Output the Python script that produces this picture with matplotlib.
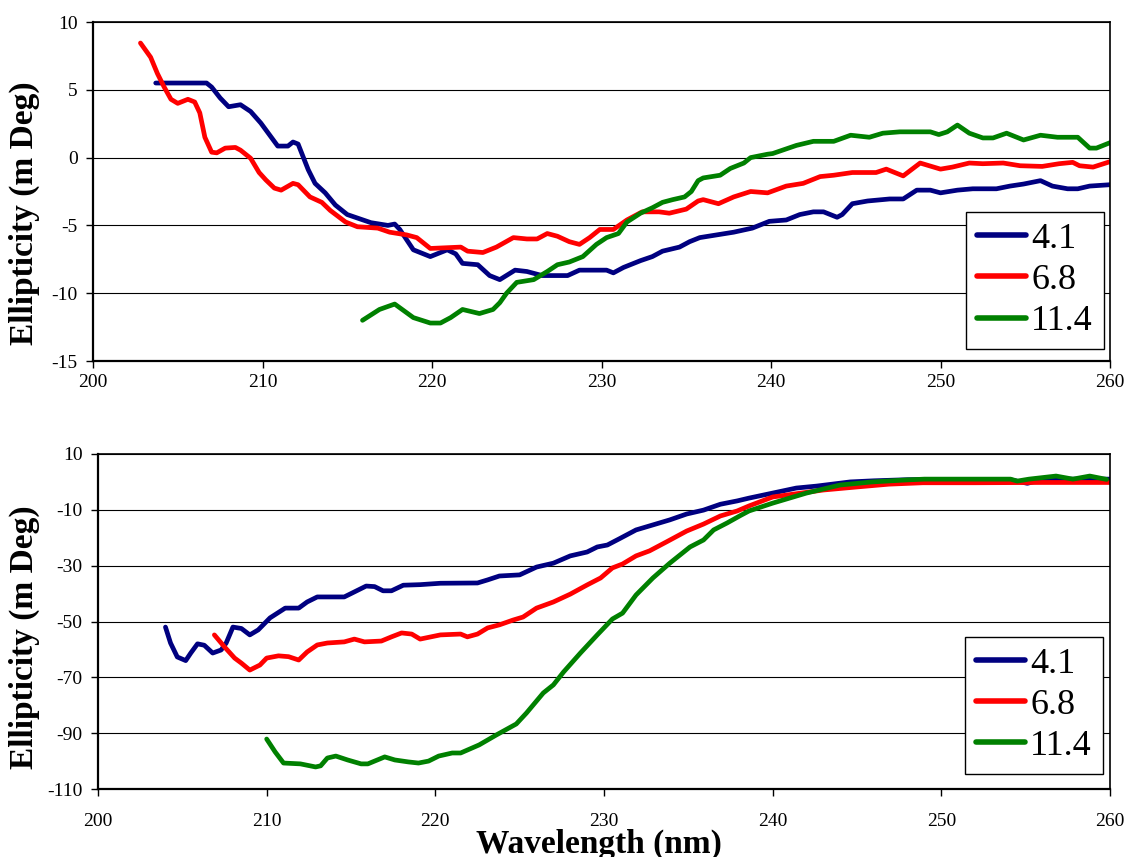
import matplotlib.pyplot as plt

plt.rcParams['font.family'] = ['Liberation Serif', 'DejaVu Serif']
plt.rcParams['axes.unicode_minus'] = False

labels = ['4.1', '6.8', '11.4']
colors = ['#000080', '#ff0000', '#008000']

# top panel
top_x_41 = [203.7, 205.0, 206.0, 206.7, 207.0, 207.5, 208.0, 208.7, 209.3, 209.9, 210.4, 210.9,
            211.5, 211.8, 212.1, 212.7, 213.1, 213.7, 214.3, 215.0, 216.4, 217.4, 217.8, 218.1,
            218.9, 219.9, 220.9, 221.4, 221.8, 222.7, 223.4, 224.0, 224.9, 225.6, 226.5, 228.0,
            228.7, 230.3, 230.7, 231.3, 232.3, 233.0, 233.6, 234.6, 235.2, 235.8, 236.8, 237.8,
            238.9, 239.9, 240.9, 241.7, 242.5, 243.1, 243.9, 244.2, 244.8, 245.7, 247.0, 247.8,
            248.6, 249.4, 250.0, 251.0, 251.9, 253.3, 254.1, 254.9, 255.9, 256.6, 257.5, 258.1,
            258.8, 260.0]
top_y_41 = [5.5, 5.5, 5.5, 5.5, 5.2, 4.4, 3.75, 3.9, 3.4, 2.55, 1.7, 0.85,
            0.85, 1.15, 1.0, -0.9, -1.9, -2.6, -3.5, -4.2, -4.8, -5.0, -4.9, -5.3,
            -6.8, -7.3, -6.8, -7.1, -7.8, -7.9, -8.7, -9.0, -8.3, -8.4, -8.7, -8.7,
            -8.3, -8.3, -8.5, -8.1, -7.6, -7.3, -6.9, -6.6, -6.2, -5.9, -5.7, -5.5,
            -5.2, -4.7, -4.6, -4.2, -4.0, -4.0, -4.4, -4.2, -3.4, -3.2, -3.05, -3.05,
            -2.4, -2.4, -2.6, -2.4, -2.3, -2.3, -2.1, -1.95, -1.7, -2.1, -2.3, -2.3,
            -2.1, -2.0]

top_x_68 = [202.8, 203.4, 203.8, 204.2, 204.6, 205.0, 205.6, 206.0, 206.3, 206.6, 207.0, 207.3,
            207.8, 208.4, 208.7, 209.3, 209.8, 210.2, 210.7, 211.1, 211.8, 212.1, 212.8, 213.5,
            214.0, 214.9, 215.6, 216.8, 217.5, 218.5, 219.1, 219.9, 221.7, 222.1, 223.0, 223.8,
            224.8, 225.6, 226.2, 226.8, 227.4, 228.1, 228.7, 229.3, 229.9, 230.7, 231.5, 232.4,
            233.4, 234.0, 235.0, 235.7, 236.0, 236.9, 237.8, 238.8, 239.8, 240.9, 241.9, 242.9,
            243.7, 244.8, 246.2, 246.8, 247.8, 248.8, 250.0, 250.7, 251.7, 252.5, 253.7, 254.7,
            256.0, 257.0, 257.8, 258.2, 259.0, 260.0]
top_y_68 = [8.45, 7.4, 6.2, 5.2, 4.3, 4.0, 4.3, 4.1, 3.3, 1.5, 0.4, 0.35,
            0.7, 0.75, 0.55, -0.05, -1.1, -1.65, -2.25, -2.4, -1.9, -2.0, -2.9, -3.3,
            -3.9, -4.75, -5.1, -5.2, -5.5, -5.7, -5.9, -6.7, -6.6, -6.9, -7.0, -6.6,
            -5.9, -6.0, -6.0, -5.6, -5.8, -6.2, -6.4, -5.9, -5.3, -5.3, -4.6, -4.0,
            -4.0, -4.1, -3.8, -3.2, -3.1, -3.4, -2.9, -2.5, -2.6, -2.1, -1.9, -1.4,
            -1.3, -1.1, -1.1, -0.85, -1.35, -0.4, -0.85, -0.7, -0.4, -0.45, -0.4, -0.6,
            -0.65, -0.45, -0.35, -0.6, -0.7, -0.3]

top_x_114 = [215.9, 216.9, 217.8, 218.9, 219.9, 220.5, 221.1, 221.8, 222.8, 223.6, 224.0, 224.4,
             225.0, 226.0, 226.8, 227.4, 228.1, 228.9, 229.7, 230.3, 231.0, 231.5, 232.3, 233.0,
             233.6, 234.2, 234.9, 235.3, 235.7, 236.0, 237.0, 237.6, 238.4, 238.8, 239.8, 240.1,
             241.5, 242.5, 243.7, 244.7, 245.8, 246.6, 247.6, 249.4, 249.9, 250.4, 251.0, 251.7,
             252.5, 253.1, 253.9, 254.9, 255.9, 256.9, 258.1, 258.8, 259.2, 260.0]
top_y_114 = [-12.0, -11.2, -10.8, -11.8, -12.2, -12.2, -11.8, -11.2, -11.5, -11.2, -10.7, -10.0,
             -9.2, -9.0, -8.4, -7.9, -7.7, -7.3, -6.4, -5.9, -5.6, -4.75, -4.1, -3.7,
             -3.3, -3.1, -2.9, -2.5, -1.7, -1.5, -1.3, -0.8, -0.4, 0.0, 0.25, 0.3,
             0.9, 1.2, 1.2, 1.65, 1.5, 1.8, 1.9, 1.9, 1.7, 1.9, 2.4, 1.8,
             1.45, 1.45, 1.8, 1.3, 1.65, 1.5, 1.5, 0.7, 0.7, 1.1]

# bottom panel
bot_x_41 = [204.0, 204.3, 204.7, 205.2, 205.5, 205.9, 206.3, 206.8, 207.3, 207.6, 208.0, 208.5,
            209.0, 209.5, 210.2, 211.1, 211.9, 212.4, 213.0, 214.6, 215.2, 215.9, 216.4, 216.9,
            217.4, 218.1, 219.1, 220.3, 222.5, 223.1, 223.8, 225.0, 226.0, 227.0, 228.0, 229.0,
            229.6, 230.2, 230.9, 231.9, 232.9, 233.9, 234.9, 235.9, 236.9, 237.9, 238.6, 240.0,
            241.4, 242.6, 244.6, 246.0, 248.0, 250.0, 252.0, 254.0, 255.1, 256.0, 258.0, 260.0]
bot_y_41 = [-52, -57.7, -62.7, -64, -61.3, -58, -58.5, -61.3, -60.2, -57.7, -52, -52.5,
            -54.8, -53, -48.7, -45.2, -45.2, -43, -41.2, -41.2, -39.4, -37.3, -37.5, -39,
            -39, -37, -36.8, -36.3, -36.2, -35.1, -33.7, -33.3, -30.5, -29.1, -26.5, -25.1,
            -23.3, -22.6, -20.4, -17.2, -15.4, -13.6, -11.5, -10.1, -8.0, -6.8, -5.8, -4.0,
            -2.2, -1.5, 0.0, 0.4, 0.8, 0.9, 0.9, 0.9, -0.5, 0.9, 1.0, 1.0]

bot_x_68 = [206.9, 207.5, 208.1, 208.5, 209.0, 209.6, 210.0, 210.7, 211.3, 211.9, 212.4, 213.0,
            213.6, 214.6, 215.2, 215.8, 216.8, 217.4, 218.0, 218.6, 219.1, 220.3, 221.5, 221.9,
            222.5, 223.1, 223.8, 224.6, 225.2, 226.0, 227.0, 228.0, 229.0, 229.8, 230.5, 231.1,
            231.9, 232.7, 233.7, 234.9, 235.9, 236.9, 237.9, 238.6, 240.0, 243.0, 245.0, 246.9,
            248.9, 252.0, 256.0, 260.0]
bot_y_68 = [-54.8, -59.1, -63.1, -64.9, -67.4, -65.6, -63.1, -62.3, -62.6, -63.8, -60.9, -58.4,
            -57.7, -57.3, -56.3, -57.3, -57, -55.5, -54.1, -54.5, -56.3, -54.8, -54.5, -55.5,
            -54.5, -52.3, -51.2, -49.5, -48.4, -45.2, -43, -40.2, -36.9, -34.4, -30.8, -29.4,
            -26.5, -24.7, -21.5, -17.6, -15.1, -12.2, -10.4, -8.6, -5.4, -2.9, -1.8, -0.8,
            -0.3, -0.3, -0.2, -0.2]

bot_x_114 = [210.0, 210.5, 211.0, 212.0, 212.9, 213.2, 213.6, 214.1, 214.8, 215.6, 216.0, 217.0,
             217.6, 218.4, 219.0, 219.6, 220.2, 221.0, 221.5, 222.6, 223.6, 224.8, 225.4, 226.4,
             227.0, 227.6, 228.6, 229.6, 230.5, 231.1, 231.9, 232.9, 233.9, 235.1, 235.9, 236.5,
             237.3, 238.1, 238.6, 240.0, 242.0, 244.0, 245.9, 247.9, 249.0, 254.1, 254.5, 255.2,
             256.8, 257.8, 258.8, 259.8]
bot_y_114 = [-92.1, -96.7, -100.7, -101, -102.1, -101.7, -98.9, -98.2, -99.6, -101, -101, -98.5,
             -99.6, -100.3, -100.7, -100, -98.2, -97.1, -97.1, -94.2, -90.7, -86.7, -82.8, -75.6,
             -72.7, -68.1, -61.3, -54.8, -49.1, -47, -40.5, -34.4, -29.1, -23.3, -20.8, -17.2,
             -14.7, -12.0, -10.4, -7.6, -4.0, -1.1, 0.0, 0.7, 1.0, 1.0, 0.3, 1.0,
             2.1, 1.0, 2.1, 0.9]

top_series = [(top_x_41, top_y_41), (top_x_68, top_y_68), (top_x_114, top_y_114)]
bot_series = [(bot_x_41, bot_y_41), (bot_x_68, bot_y_68), (bot_x_114, bot_y_114)]

fig = plt.figure(figsize=(11.28, 8.57), dpi=100)
ax1 = fig.add_axes([93 / 1128, 1 - 361 / 857, 1017 / 1128, 339 / 857])
ax2 = fig.add_axes([98 / 1128, 1 - 789 / 857, 1012 / 1128, 335 / 857])


def style(ax, series, yticks, xpad, legend_anchor, label_xy):
    for (xs, ys), c, lab in zip(series, colors, labels):
        ax.plot(xs, ys, color=c, lw=3.4, label=lab, solid_capstyle='round')
    ax.set_xlim(200, 260)
    ax.set_ylim(yticks[0], yticks[-1])
    ax.set_xticks(range(200, 261, 10))
    ax.set_yticks(yticks)
    ax.yaxis.grid(True, color='black', lw=0.8)
    ax.set_axisbelow(True)
    for s in ax.spines.values():
        s.set_color('black')
        s.set_linewidth(1.2)
    ax.spines['left'].set_linewidth(1.6)
    ax.spines['bottom'].set_linewidth(1.6)
    ax.tick_params(axis='x', direction='out', length=5, width=1, pad=xpad, labelsize=14)
    ax.tick_params(axis='y', direction='out', length=5, width=1, pad=6, labelsize=14)
    ax.set_ylabel('Ellipticity (m Deg)', fontsize=24, fontweight='bold')
    ax.yaxis.set_label_coords(*label_xy)
    leg = ax.legend(loc='lower right', bbox_to_anchor=legend_anchor, fontsize=26,
                    frameon=True, fancybox=False, edgecolor='black', framealpha=1,
                    handlelength=1.35, handletextpad=0.15, labelspacing=0.22,
                    borderpad=0.3, borderaxespad=0)
    leg.get_frame().set_linewidth(1.0)
    for h in leg.get_lines():
        h.set_linewidth(4.0)


style(ax1, top_series, [-15, -10, -5, 0, 5, 10], 4, (0.994, 0.035), (-0.052, 0.437))
style(ax2, bot_series, [-110, -90, -70, -50, -30, -10, 10], 12, (0.993, 0.045), (-0.057, 0.454))

ax2.set_xlabel('Wavelength (nm)', fontsize=24, fontweight='bold')
ax2.xaxis.set_label_coords(0.495, -0.118)

plt.savefig('out.png', dpi=100)
